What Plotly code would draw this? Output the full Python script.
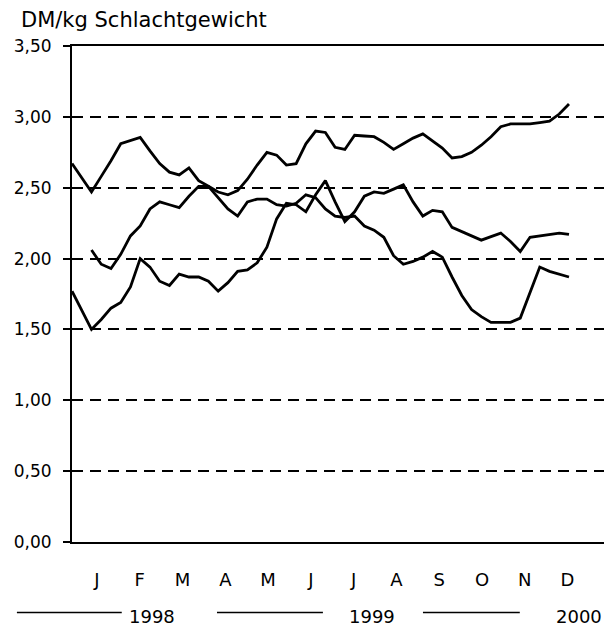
import plotly.graph_objects as go

weeks = list(range(1, 53))

# DM/kg Schlachtgewicht, weekly values
prices_2000 = [2.67, 2.57, 2.47, 2.58, 2.69, 2.81, 2.83, 2.855, 2.76, 2.67,
               2.61, 2.59, 2.64, 2.55, 2.51, 2.47, 2.45, 2.48, 2.56, 2.66,
               2.75, 2.73, 2.66, 2.67, 2.81, 2.90, 2.89, 2.785, 2.77, 2.87,
               2.865, 2.86, 2.82, 2.77, 2.81, 2.85, 2.88, 2.83, 2.78, 2.71,
               2.72, 2.75, 2.80, 2.86, 2.93, 2.95, 2.95, 2.95, 2.96, 2.97,
               3.02, 3.09]

prices_1998 = [None, None, 2.06, 1.96, 1.93, 2.03, 2.16, 2.23, 2.35, 2.40,
               2.38, 2.36, 2.44, 2.51, 2.51, 2.43, 2.35, 2.30, 2.40, 2.42,
               2.42, 2.38, 2.37, 2.39, 2.45, 2.43, 2.35, 2.30, 2.29, 2.30,
               2.23, 2.20, 2.15, 2.02, 1.96, 1.98, 2.01, 2.05, 2.01, 1.87,
               1.74, 1.64, 1.59, 1.55, 1.55, 1.55, 1.58, 1.76, 1.94, 1.91,
               1.89, 1.87]

prices_1999 = [1.77, 1.63, 1.50, 1.57, 1.65, 1.69, 1.80, 2.00, 1.94, 1.84,
               1.81, 1.89, 1.87, 1.87, 1.84, 1.77, 1.83, 1.91, 1.92, 1.97,
               2.08, 2.28, 2.39, 2.38, 2.33, 2.45, 2.55, 2.40, 2.26, 2.33,
               2.44, 2.47, 2.46, 2.49, 2.52, 2.40, 2.30, 2.34, 2.33, 2.22,
               2.19, 2.16, 2.13, 2.155, 2.18, 2.12, 2.05, 2.15, 2.16, 2.17,
               2.18, 2.17]

month_labels = ["J", "F", "M", "A", "M", "J", "J", "A", "S", "O", "N", "D"]
y_ticks = [0, 0.5, 1.0, 1.5, 2.0, 2.5, 3.0, 3.5]
legend_years = ["1998", "1999", "2000"]

FONT = "DejaVu Sans"
month_pos = [3.56 + 4.39 * i for i in range(12)]

fig = go.Figure()
for ys in (prices_2000, prices_1998, prices_1999):
    fig.add_trace(go.Scatter(x=weeks, y=ys, mode="lines",
                             line=dict(color="black", width=2.8),
                             connectgaps=False, showlegend=False,
                             hoverinfo="skip"))

# the page body has an 8px margin, so the figure is sized to fit the window
fig.update_layout(
    width=604, height=619,
    margin=dict(l=64, r=5, t=38, b=85, autoexpand=False),
    paper_bgcolor="white", plot_bgcolor="white",
    separators=",.",
    font=dict(family=FONT, color="black"),
    xaxis=dict(range=[1, 55.9], tickvals=month_pos, ticktext=month_labels,
               showgrid=False, zeroline=False, ticks="", automargin=False,
               showline=True, linecolor="black", linewidth=2, mirror=True,
               tickfont=dict(size=18, family=FONT), ticklabelstandoff=20),
    yaxis=dict(range=[0, 3.5], tickvals=y_ticks, tickformat=".2f",
               showgrid=True, gridcolor="black", gridwidth=1.6,
               griddash="11px,7px", zeroline=False, automargin=False,
               showline=True, linecolor="black", linewidth=2,
               ticks="outside", ticklen=7, tickcolor="black", tickwidth=1.5,
               tickfont=dict(size=17, family=FONT), ticklabelstandoff=8),
)

# right border, dotted as in the scan
fig.add_shape(type="line", xref="paper", yref="paper", x0=1, x1=1, y0=0, y1=1,
              line=dict(color="black", width=1.5, dash="dot"))

fig.add_annotation(text="DM/kg Schlachtgewicht", xref="paper", yref="paper",
                   x=-0.100, y=1.052, xanchor="left", yanchor="middle",
                   showarrow=False, font=dict(size=21, family=FONT))

# legend drawn below the axis
leg_lines = [(-0.103, 0.093), (0.271, 0.469), (0.656, 0.837)]
leg_text_x = [0.102, 0.514, 0.900]
for (a, b), tx, lab in zip(leg_lines, leg_text_x, legend_years):
    fig.add_shape(type="line", xref="paper", yref="paper", x0=a, x1=b,
                  y0=-0.142, y1=-0.142, line=dict(color="black", width=1.6))
    fig.add_annotation(text=lab, xref="paper", yref="paper", x=tx, y=-0.150,
                       xanchor="left", yanchor="middle", showarrow=False,
                       font=dict(size=18, family=FONT))

fig.write_html("out.html")
